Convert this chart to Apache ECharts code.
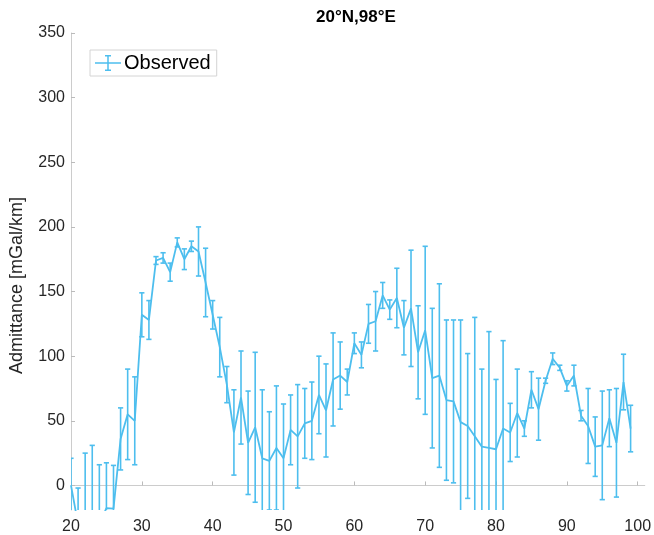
<!DOCTYPE html>
<html>
<head>
<meta charset="utf-8">
<script src="https://cdn.jsdelivr.net/npm/echarts@6/dist/echarts.min.js"></script>
<style>
html,body{margin:0;padding:0;background:#fff;}
#chart{width:654px;height:535px;}
</style>
</head>
<body>
<div id="chart"></div>
<script>
const distances = [20,21,22,23,24,25,26,27,28,29,30,31,32,33,34,35,36,37,38,39,40,41,42,43,44,45,46,47,48,49,50,51,52,53,54,55,56,57,58,59,60,61,62,63,64,65,66,67,68,69,70,71,72,73,74,75,76,77,78,79,80,81,82,83,84,85,86,87,88,89,90,91,92,93,94,95,96,97,98,99];
const admittance = [0,-30,-30,-30,-30,-17.5,-18,36,55,50,132,128,174,176,165,188,175,185,181,157,132,107,78,41,68,33,45,21,19,29,21,43,38,48,50,70,58,82,85,80,110,101,125,127,147,136,145,122,137,103,120,83,85,66,65,49,46,38,30,29,28,44,41,56,44,74,59,81,98,91,77,85,54,46,30,31,52,33,80,44];
const errors = [21,28,55,61,46,35,33.5,24,35,34,17,15,3,4,7,3.5,8,4,19,26.5,11,23,14,33,36,40,58,53,38,48,42,27,40,27,30,30,36,36,26,10,8,10,15,23,10,7.5,23,21,45,36,65,54,71,62,63,79,56,92,60,90,54,68,22.5,34,6,14,24,2,4.5,2,4,8,4,29,23,42,22,42,21.5,18];
const xTicks = [20,30,40,50,60,70,80,90,100];
const yTicks = [0,50,100,150,200,250,300,350];

const COLOR = '#4DBEEE';
const FONT = '"Liberation Sans", Arial, Helvetica, sans-serif';

const lineData = distances.map((d, i) => [d, admittance[i]]);
const errData = distances.map((d, i) => [d, admittance[i] - errors[i], admittance[i] + errors[i]]);

const chart = echarts.init(document.getElementById('chart'), null, {renderer: 'canvas'});
chart.setOption({
  animation: false,
  backgroundColor: '#fff',
  title: {
    text: '20°N,98°E',
    left: 356,
    top: 9,
    padding: 0,
    textAlign: 'center',
    textStyle: {fontFamily: FONT, fontSize: 17, fontWeight: 'bold', color: '#000'}
  },
  legend: {
    data: ['Observed'],
    left: 90,
    top: 50,
    orient: 'vertical',
    padding: [3, 6, 3, 5],
    itemWidth: 26,
    itemHeight: 16,
    itemGap: 0,
    backgroundColor: '#fff',
    borderColor: '#d4d4d4',
    borderWidth: 1,
    borderRadius: 0,
    icon: 'path://M0,7.25h26v1.5H0z M12.25,0h1.5v16h-1.5z M10,0h6v1.5H10z M10,14.5h6v1.5H10z',
    itemStyle: {color: COLOR},
    textStyle: {fontFamily: FONT, fontSize: 20, color: '#000', padding: [0, 0, 0, -2]}
  },
  grid: {left: 68, right: 6, top: 33, bottom: 24},
  xAxis: {
    type: 'value',
    min: 20,
    max: 101,
    splitLine: {show: false},
    axisLine: {show: true, lineStyle: {color: '#cccccc', width: 1}},
    axisTick: {show: true, inside: true, length: 4, lineStyle: {color: '#bbbbbb'}, customValues: xTicks},
    axisLabel: {customValues: xTicks, fontFamily: FONT, fontSize: 16, color: '#262626', margin: 9}
  },
  yAxis: {
    type: 'value',
    min: -19,
    max: 350,
    name: 'Admittance [mGal/km]',
    nameLocation: 'middle',
    nameRotate: 90,
    nameGap: 45,
    nameTextStyle: {fontFamily: FONT, fontSize: 18, color: '#262626', padding: [0, 28, 0, 0]},
    splitLine: {show: false},
    axisLine: {show: true, lineStyle: {color: '#cccccc', width: 1}},
    axisTick: {show: true, inside: true, length: 4, lineStyle: {color: '#bbbbbb'}, customValues: yTicks},
    axisLabel: {customValues: yTicks, fontFamily: FONT, fontSize: 16, color: '#262626', margin: 6}
  },
  series: [
    {
      name: 'Observed',
      type: 'custom',
      clip: true,
      data: errData,
      z: 2,
      renderItem: function (params, api) {
        const x = api.value(0);
        const lo = api.coord([x, api.value(1)]);
        const hi = api.coord([x, api.value(2)]);
        const hw = 2.6;
        const style = {stroke: COLOR, lineWidth: 1.6, fill: null};
        return {
          type: 'group',
          children: [
            {type: 'line', shape: {x1: lo[0], y1: lo[1], x2: hi[0], y2: hi[1]}, style: style},
            {type: 'line', shape: {x1: lo[0] - hw, y1: lo[1], x2: lo[0] + hw, y2: lo[1]}, style: style},
            {type: 'line', shape: {x1: hi[0] - hw, y1: hi[1], x2: hi[0] + hw, y2: hi[1]}, style: style}
          ]
        };
      }
    },
    {
      name: 'Observed',
      type: 'line',
      data: lineData,
      symbol: 'none',
      clip: true,
      z: 3,
      lineStyle: {color: COLOR, width: 1.8},
      itemStyle: {color: COLOR}
    }
  ]
});
</script>
</body>
</html>
